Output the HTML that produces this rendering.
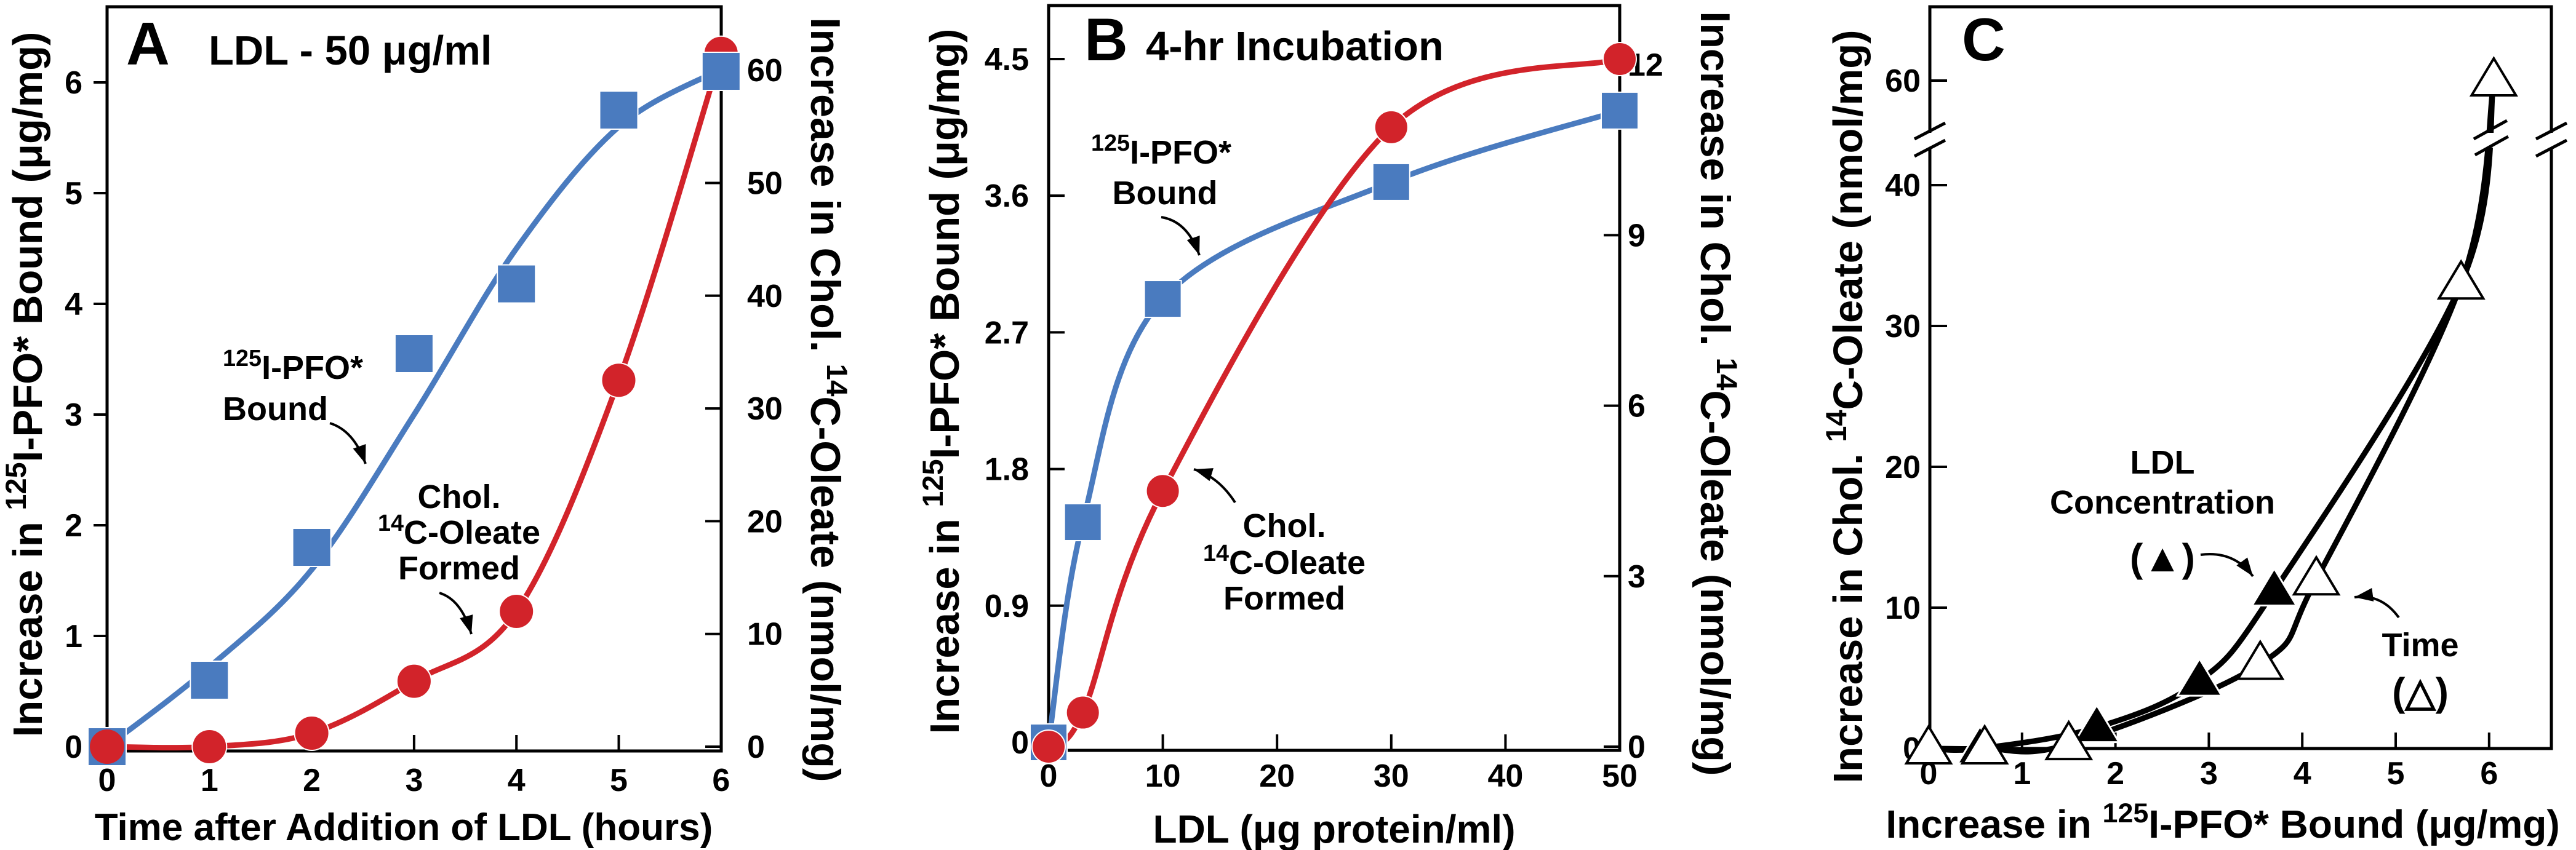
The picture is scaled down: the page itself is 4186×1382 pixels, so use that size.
<!DOCTYPE html>
<html><head><meta charset="utf-8">
<style>
html,body{margin:0;padding:0;background:#fff;}
svg{display:block;font-family:"Liberation Sans",Arial,sans-serif;font-weight:bold;}
</style></head>
<body>
<svg id="fig" width="4186" height="1382" viewBox="0 0 4186 1382" xmlns="http://www.w3.org/2000/svg"></svg>
<script>
// ---------- Panel A data ----------
const aHours = [0,1,2,3,4,5,6];
const aPfo = [0,0.6,1.8,3.55,4.18,5.75,6.1];
const aOleate = [0,0,1.2,5.8,12,32.5,61.5];
const aPfoFitX = [0,1,2,3,4,5,6];
const aPfoFitY = [0,0.72,1.6,3.0,4.5,5.6,6.12];
const aXTicks = [0,1,2,3,4,5,6];
const aLeftTicks = [0,1,2,3,4,5,6];
const aRightTicks = [0,10,20,30,40,50,60];
// ---------- Panel B data ----------
const bLdl = [0,3,10,30,50];
const bPfo = [0,1.45,2.92,3.69,4.16];
const bOleate = [0,0.6,4.5,10.9,12.1];
const bXTicks = [0,10,20,30,40,50];
const bLeftTicks = ["0","0.9","1.8","2.7","3.6","4.5"];
const bRightTicks = [0,3,6,9,12];
// ---------- Panel C data ----------
const cFilledX = [0,0.55,1.8,2.9,3.7];
const cFilledY = [0,0,1.5,4.8,11.2];
const cOpenX = [0,0.6,1.5,3.55,4.15,5.7,6.05];
const cOpenY = [0,0,0.3,6.0,12,33,60];
const cXTicks = [0,1,2,3,4,5,6];
const cYTicks = [0,10,20,30,40,60];

const NS="http://www.w3.org/2000/svg";
const svg=document.getElementById('fig');
function el(tag,attrs,parent){const e=document.createElementNS(NS,tag);for(const k in attrs)e.setAttribute(k,attrs[k]);(parent||svg).appendChild(e);return e;}
function spline(pts){let d=`M${pts[0][0]},${pts[0][1]}`;for(let i=0;i<pts.length-1;i++){const p0=pts[Math.max(i-1,0)],p1=pts[i],p2=pts[i+1],p3=pts[Math.min(i+2,pts.length-1)];const t=6;d+=` C${p1[0]+(p2[0]-p0[0])/t},${p1[1]+(p2[1]-p0[1])/t} ${p2[0]-(p3[0]-p1[0])/t},${p2[1]-(p3[1]-p1[1])/t} ${p2[0]},${p2[1]}`;}return d;}
function txt(x,y,s,size,anchor,parent){const t=el('text',{x:x,y:y,'font-size':size,'text-anchor':anchor||'start'},parent);t.innerHTML=s;return t;}
function arrow(x1,y1,x2,y2,cx,cy,g){el('path',{d:`M${x1},${y1} Q${cx},${cy} ${x2},${y2}`,stroke:'#000','stroke-width':4,fill:'none'},g);const a=Math.atan2(y2-cy,x2-cx),L=30,W=11;const bx=x2-L*Math.cos(a),by=y2-L*Math.sin(a);el('path',{d:`M${x2},${y2} L${bx+W*Math.sin(a)},${by-W*Math.cos(a)} L${bx-W*Math.sin(a)},${by+W*Math.cos(a)}Z`,fill:'#000'},g);}
const BLUE='#4a7bbf',RED='#d2232a';
const SUP="font-size='0.7em' baseline-shift='super'";

// ================= PANEL A =================
(function(){
const g=el('g',{});


const L=174,R=1172,T=11,B=1221;
const x=v=>L+v*166.3, yl=v=>1214-v*180, yr=v=>1214-v*18.33;
el('rect',{x:L,y:T,width:R-L,height:B-T,fill:'none',stroke:'#000','stroke-width':5},g);
aXTicks.forEach(v=>{el('line',{x1:x(v),x2:x(v),y1:B,y2:B-26,stroke:'#000','stroke-width':4},g);const t=txt(x(v),1286,v,52,'middle',g);});
aLeftTicks.forEach(v=>{el('line',{x1:L,x2:L-22,y1:yl(v),y2:yl(v),stroke:'#000','stroke-width':4},g);txt(134,yl(v)+18,v,52,'end',g);});
aRightTicks.forEach(v=>{el('line',{x1:R,x2:R-26,y1:yr(v),y2:yr(v),stroke:'#000','stroke-width':4},g);txt(1214,yr(v)+18,v,52,'start',g);});
el('path',{d:spline(aPfoFitX.map((v,i)=>[x(v),yl(aPfoFitY[i])])),stroke:BLUE,'stroke-width':9,fill:'none'},g);
el('path',{d:spline(aHours.map((v,i)=>[x(v),yr(aOleate[i])])),stroke:RED,'stroke-width':9,fill:'none'},g);
aHours.forEach((v,i)=>{const c=el('circle',{cx:x(v),cy:yr(aOleate[i]),r:28,fill:RED,stroke:'#fff','stroke-width':2},g);});
aHours.forEach((v,i)=>{const r=el('rect',{x:x(v)-31,y:yl(aPfo[i])-31,width:62,height:62,fill:BLUE,stroke:'#fff','stroke-width':2},g);});
el('circle',{cx:x(0),cy:yr(0),r:28,fill:RED},g);
txt(205,105,'A',98,'start',g);
txt(339,105,'LDL - 50 &#956;g/ml',67,'start',g);
let t=txt(0,0,`Increase in <tspan ${SUP}>125</tspan>I-PFO* Bound (&#956;g/mg)`,67,'middle',g);t.setAttribute('transform','translate(68,625) rotate(-90)');
t=txt(0,0,`Increase in Chol. <tspan ${SUP}>14</tspan>C-Oleate (nmol/mg)`,68,'middle',g);t.setAttribute('transform','translate(1318,650) rotate(90)');
t=txt(656,1366,'Time after Addition of LDL (hours)',62,'middle',g);
txt(362,616,`<tspan ${SUP}>125</tspan>I-PFO*`,54,'start',g);
txt(362,683,'Bound',54,'start',g);
arrow(536,688,594,754,575,700,g);
txt(746,826,'Chol.',54,'middle',g);
txt(746,884,`<tspan ${SUP}>14</tspan>C-Oleate`,54,'middle',g);
txt(746,942,'Formed',54,'middle',g);
arrow(714,964,766,1031,750,975,g);
})();

// ================= PANEL B =================
(function(){
const g=el('g',{});


const L=1704,R=2632,T=9,B=1220;
const x=v=>L+v*18.56, yl=v=>1207-v*246.9, yr=v=>1214-v*92.4;
el('rect',{x:L,y:T,width:R-L,height:B-T,fill:'none',stroke:'#000','stroke-width':5},g);
bXTicks.forEach(v=>{el('line',{x1:x(v),x2:x(v),y1:B,y2:B-26,stroke:'#000','stroke-width':4},g);txt(x(v),1279,v,52,'middle',g);});
bLeftTicks.forEach(s=>{const v=parseFloat(s);el('line',{x1:L,x2:L+26,y1:yl(v),y2:yl(v),stroke:'#000','stroke-width':4},g);txt(1672,yl(v)+18,s,52,'end',g);});
bRightTicks.forEach(v=>{el('line',{x1:R,x2:R-26,y1:yr(v),y2:yr(v),stroke:'#000','stroke-width':4},g);txt(2645,yr(v)+18,v,52,'start',g);});
el('path',{d:spline(bLdl.map((v,i)=>[x(v),yl(bPfo[i])])),stroke:BLUE,'stroke-width':9,fill:'none'},g);
el('path',{d:spline(bLdl.map((v,i)=>[x(v),yr(bOleate[i])])),stroke:RED,'stroke-width':9,fill:'none'},g);
bLdl.forEach((v,i)=>{const r=el('rect',{x:x(v)-30,y:yl(bPfo[i])-30,width:60,height:60,fill:BLUE,stroke:'#fff','stroke-width':2},g);});
bLdl.forEach((v,i)=>{const c=el('circle',{cx:x(v),cy:yr(bOleate[i]),r:27,fill:RED,stroke:'#fff','stroke-width':2},g);});
txt(1762,98,'B',98,'start',g);
txt(1862,98,'4-hr Incubation',67,'start',g);
let t=txt(0,0,`Increase in <tspan ${SUP}>125</tspan>I-PFO* Bound (&#956;g/mg)`,67,'middle',g);t.setAttribute('transform','translate(1558,620) rotate(-90)');
t=txt(0,0,`Increase in Chol. <tspan ${SUP}>14</tspan>C-Oleate (nmol/mg)`,68,'middle',g);t.setAttribute('transform','translate(2764,640) rotate(90)');
t=txt(2168,1370,'LDL (&#956;g protein/ml)',64,'middle',g);
txt(1773,266,`<tspan ${SUP}>125</tspan>I-PFO*`,54,'start',g);
txt(1893,332,'Bound',54,'middle',g);
arrow(1887,353,1949,415,1930,360,g);
txt(2087,873,'Chol.',54,'middle',g);
txt(2087,933,`<tspan ${SUP}>14</tspan>C-Oleate`,54,'middle',g);
txt(2087,991,'Formed',54,'middle',g);
arrow(2007,817,1940,763,1980,775,g);
})();

// ================= PANEL C =================
(function(){
const g=el('g',{});


const L=3136,R=4146,T=11,B=1217;
const x=v=>3134+v*151.8;
const y=v=>v>45?131+(60-v)*22.9:1217-v*22.9;
el('rect',{x:L,y:T,width:R-L,height:B-T,fill:'none',stroke:'#000','stroke-width':5},g);
cXTicks.forEach(v=>{el('line',{x1:x(v),x2:x(v),y1:B,y2:B-26,stroke:'#000','stroke-width':4},g);txt(x(v),1275,v,52,'middle',g);});
cYTicks.forEach(v=>{el('line',{x1:L,x2:L+28,y1:y(v),y2:y(v),stroke:'#000','stroke-width':4},g);txt(3121,y(v)+18,v,52,'end',g);});
[[L,228],[R,228]].forEach(([bx,by])=>{el('rect',{x:bx-10,y:by-12,width:20,height:24,fill:'#fff'},g);
 el('line',{x1:bx-25,y1:by-2,x2:bx+25,y2:by-28,stroke:'#000','stroke-width':5},g);
 el('line',{x1:bx-25,y1:by+26,x2:bx+25,y2:by,stroke:'#000','stroke-width':5},g);});
el('path',{d:spline(cOpenX.map((v,i)=>[x(v),y(cOpenY[i])])),stroke:'#000','stroke-width':9,fill:'none'},g);
const fx=cFilledX.concat(cOpenX.slice(-2)),fy=cFilledY.concat(cOpenY.slice(-2));
el('path',{d:spline(fx.map((v,i)=>[x(v),y(fy[i])])),stroke:'#000','stroke-width':9,fill:'none'},g);
const cb=x(6.02);
el('rect',{x:cb-10,y:216,width:20,height:24,fill:'#fff'},g);
el('line',{x1:cb-28,y1:226,x2:cb+26,y2:196,stroke:'#000','stroke-width':5},g);
el('line',{x1:cb-26,y1:252,x2:cb+28,y2:222,stroke:'#000','stroke-width':5},g);
const tri=(cx,cy)=>`M${cx},${cy-36} L${cx+36},${cy+24} L${cx-36},${cy+24}Z`;
cFilledX.forEach((v,i)=>{const p=el('path',{d:tri(x(v),y(cFilledY[i])),fill:'#000',stroke:'#fff','stroke-width':3},g);});
cOpenX.forEach((v,i)=>{const p=el('path',{d:tri(x(v),y(cOpenY[i])),fill:'#fff',stroke:'#000','stroke-width':4},g);});
txt(3188,98,'C',98,'start',g);
let t=txt(0,0,`Increase in Chol. <tspan ${SUP}>14</tspan>C-Oleate (nmol/mg)`,67,'middle',g);t.setAttribute('transform','translate(3026,661) rotate(-90)');
t=txt(3612,1362,`Increase in <tspan ${SUP}>125</tspan>I-PFO* Bound (&#956;g/mg)`,64,'middle',g);
txt(3514,770,'LDL',54,'middle',g);
txt(3514,835,'Concentration',54,'middle',g);
txt(3514,929,'(&#9650;)',64,'middle',g);
arrow(3576,902,3661,937,3630,895,g);
txt(3933,1067,'Time',54,'middle',g);
txt(3933,1147,'(&#9651;)',64,'middle',g);
arrow(3898,1004,3826,971,3870,965,g);
})();
</script>
</body></html>
